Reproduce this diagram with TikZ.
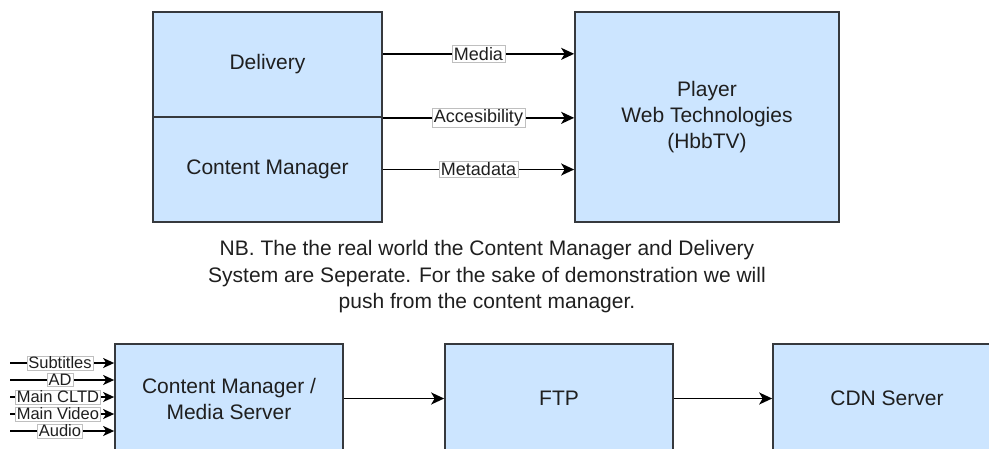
\documentclass[tikz,border=0pt]{standalone}
\usepackage{fontspec}
\setmainfont{Liberation Sans}
\usetikzlibrary{arrows.meta,calc}
\definecolor{boxfill}{HTML}{CCE5FF}
\definecolor{boxline}{HTML}{36393D}
\definecolor{txt}{HTML}{1F1F1F}
\begin{document}
\begin{tikzpicture}[x=1pt,y=-1pt,
  blk/.style={draw=boxline, fill=boxfill, line width=1.7pt, inner sep=0pt,
    text=txt, font=\fontsize{21}{26}\selectfont, align=center},
  flow/.style={draw=black, line width=1.8pt,
    -{Stealth[length=13pt,width=12pt,inset=3.5pt]}},
  inflow/.style={draw=black, line width=1.6pt,
    -{Stealth[length=11pt,width=10pt,inset=3pt]}},
  lbl/.style={fill=white, draw=black!25, line width=0.6pt, inner xsep=2pt,
    inner ysep=1.5pt, text=txt, font=\fontsize{18}{18}\selectfont},
  tag/.style={fill=white, draw=black!25, line width=0.5pt, inner xsep=1.5pt,
    inner ysep=0.8pt, text=txt, font=\fontsize{16.5}{16.5}\selectfont}]
\useasboundingbox (0,0) rectangle (989,448);
\clip (0,0) rectangle (989,448);

% upper system: delivery / content manager feeding the player
\node[blk, minimum width=229pt, minimum height=105pt] (dl) at (267.5,64.5) {Delivery};
\node[blk, minimum width=229pt, minimum height=105pt] (cm) at (267.5,169.5) {Content Manager};
\node[blk, minimum width=264pt, minimum height=210pt] (pl) at (707,117)
  {Player\\Web Technologies\\(HbbTV)};

\coordinate (med) at ($(dl.north east)!0.4!(dl.south east)$);
\draw[flow] (med) -- (med -| pl.west) node[midway, lbl] {Media};
\draw[flow] (dl.south east) -- (dl.south east -| pl.west) node[midway, lbl] {Accesibility};
\draw[flow] (cm.east) -- (cm.east -| pl.west) node[midway, lbl] {Metadata};

% note
\node[text=txt, font=\fontsize{21}{26.5}\selectfont, align=center] (nb) at (487,277)
  {NB. The the real world the Content Manager and Delivery\\
   System are Seperate. For the sake of demonstration we will\\
   push from the content manager.};

% lower pipeline
\node[blk, minimum width=228pt, minimum height=109pt] (cms) at (229,398.5)
  {\fontsize{21}{23}\selectfont Content Manager /\\Media Server};
\node[blk, minimum width=228pt, minimum height=109pt] (ftp) at (559,398.5) {FTP};
\node[blk, minimum width=228pt, minimum height=109pt] (cdn) at (887,398.5) {CDN Server};

\draw[flow] (cms.east) -- (ftp.west);
\draw[flow] (ftp.east) -- (cdn.west);

% incoming streams
\coordinate (s1) at (10,363);
\coordinate (s2) at (10,380);
\coordinate (s3) at (10,397);
\coordinate (s4) at (10,414);
\coordinate (s5) at (10,431);
\draw[inflow] (s1) -- (s1 -| cms.west) node[pos=0.48, tag] {Subtitles};
\draw[inflow] (s2) -- (s2 -| cms.west) node[pos=0.48, tag] {AD};
\draw[inflow] (s3) -- (s3 -| cms.west) node[pos=0.46, tag] {Main CLTD};
\draw[inflow] (s4) -- (s4 -| cms.west) node[pos=0.46, tag] {Main Video};
\draw[inflow] (s5) -- (s5 -| cms.west) node[pos=0.48, tag] {Audio};
\end{tikzpicture}
\end{document}
